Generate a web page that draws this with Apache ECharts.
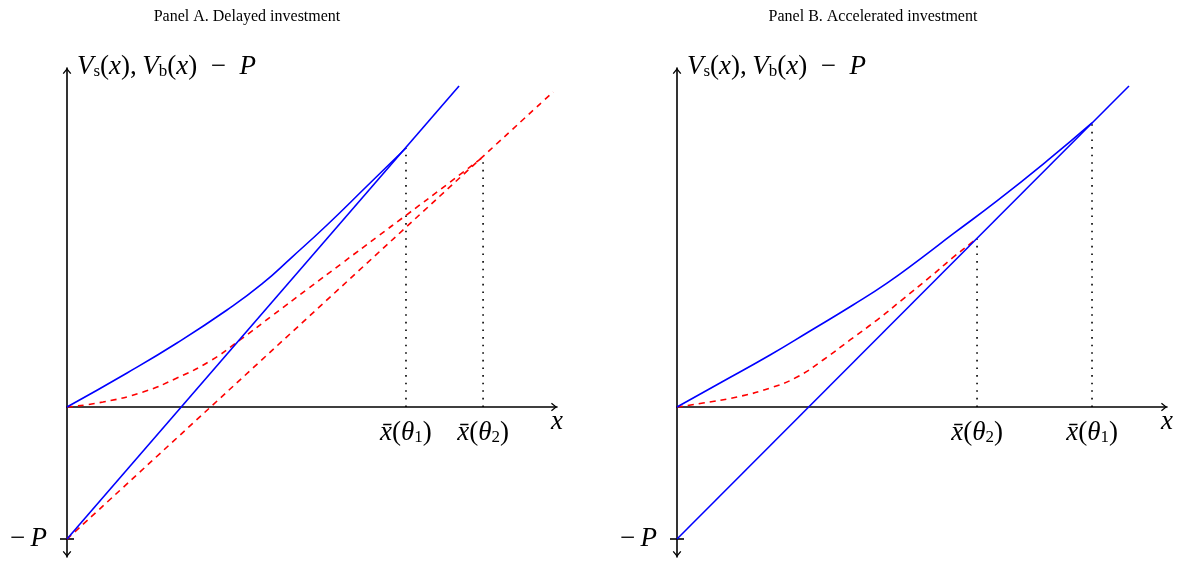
<!DOCTYPE html>
<html>
<head>
<meta charset="utf-8">
<script src="https://cdn.jsdelivr.net/npm/echarts@6/dist/echarts.min.js"></script>
<style>
  html, body { margin: 0; padding: 0; background: #fff; }
  #main { width: 1181px; height: 562px; }
</style>
</head>
<body>
<div id="main"></div>
<script>
var P = 1

// Panel A. Delayed investment
var aVsX = [0, 0.455, 0.833, 1.212, 1.477, 1.705, 1.97, 2.273, 2.568]
var aVsY = [0, 0.258, 0.485, 0.735, 0.932, 1.136, 1.379, 1.674, 1.962]
var aLineEnd = [2.97, 2.432]
var aRedX = [0, 0.273, 0.576, 0.833, 1.083, 1.311, 1.561, 1.818, 2.091, 2.348, 2.576, 2.879, 3.152]
var aRedY = [0, 0.038, 0.114, 0.22, 0.348, 0.508, 0.697, 0.89, 1.095, 1.288, 1.458, 1.686, 1.894]
var aRedLineEnd = [3.682, 2.386]
var aTickLabels = ['{i|x̄}{n|(}{i|θ}{s|1}{n|)}', '{i|x̄}{n|(}{i|θ}{s|2}{n|)}']

// Panel B. Accelerated investment
var bVsX = [0, 0.326, 0.705, 1.008, 1.333, 1.591, 1.841, 2.091, 2.424, 2.803, 3.144]
var bVsY = [0, 0.182, 0.394, 0.576, 0.773, 0.939, 1.121, 1.311, 1.561, 1.864, 2.152]
var bLineEnd = [3.424, 2.432]
var bRedX = [0, 0.197, 0.455, 0.705, 0.909, 1.106, 1.311, 1.515, 1.712, 1.917, 2.091, 2.22, 2.273]
var bRedY = [0, 0.03, 0.076, 0.144, 0.227, 0.356, 0.508, 0.659, 0.818, 0.985, 1.133, 1.235, 1.277]
var bTickLabels = ['{i|x̄}{n|(}{i|θ}{s|1}{n|)}', '{i|x̄}{n|(}{i|θ}{s|2}{n|)}']

var xMax = 3.712
var yMin = -1.136
var yMax = 2.568
var gridH = 489

var serif = 'Liberation Serif'
var rich = {
  i: { fontFamily: serif, fontStyle: 'italic', fontSize: 27, lineHeight: 26, color: '#000' },
  n: { fontFamily: serif, fontSize: 27, lineHeight: 26, color: '#000' },
  // subscript: padding on top pushes the glyphs below the baseline
  s: { fontFamily: serif, fontSize: 17, lineHeight: 6, padding: [9, 0, 0, 0], color: '#000' }
}
var yName = '{i|V}{s|s}{n|(}{i|x}{n|),\u2009}{i|V}{s|b}{n|(}{i|x}{n|)\u2002−\u2002}{i|P}'
var arrowTip = 'path://M0,6L5,0L10,6L8.8,7L5,2.2L1.2,7Z'
var black = { color: '#000', width: 1.6 }

function pairs(xs, ys) {
  return xs.map(function(x, i) {
    return [x, ys[i]]
  })
}
function last(arr) {
  return arr[arr.length - 1]
}

function makeX(idx, values, labels) {
  // main axis on zero + a label-only axis moved up to the zero line
  var zeroOffset = -((0 - yMin) / (yMax - yMin)) * gridH
  return [
    {
      gridIndex: idx,
      type: 'value',
      min: 0,
      max: xMax,
      axisLine: {
        onZero: true,
        symbol: ['none', arrowTip],
        symbolSize: [10, 6],
        symbolOffset: [0, -3],
        lineStyle: black
      },
      axisTick: { show: false },
      splitLine: { show: false },
      axisLabel: { show: false },
      name: '{i|x}',
      nameLocation: 'end',
      nameGap: 0,
      nameTextStyle: { rich: rich, align: 'center', verticalAlign: 'top', padding: [2, 0, 0, 0] }
    },
    {
      gridIndex: idx,
      type: 'value',
      position: 'bottom',
      offset: zeroOffset,
      min: 0,
      max: xMax,
      axisLine: { show: false, onZero: false },
      axisTick: { show: false },
      splitLine: { show: false },
      axisLabel: {
        customValues: values,
        margin: 13,
        rich: rich,
        formatter: function(v) {
          var best = 0
          values.forEach(function(c, i) {
            if (Math.abs(c - v) < Math.abs(values[best] - v)) best = i
          })
          return labels[best]
        }
      }
    }
  ]
}

function makeY(idx) {
  return [
    {
      gridIndex: idx,
      type: 'value',
      min: yMin,
      max: yMax,
      axisLine: {
        symbol: [arrowTip, arrowTip],
        symbolSize: [10, 6],
        symbolOffset: [3, -3],
        lineStyle: black
      },
      axisTick: { customValues: [-P], length: 7, lineStyle: black },
      axisLabel: { customValues: [-P], formatter: '{n|−\u2009}{i|P}', margin: 20, rich: rich },
      splitLine: { show: false },
      name: yName,
      nameLocation: 'end',
      nameGap: 1,
      nameTextStyle: { rich: rich, align: 'left', verticalAlign: 'middle', padding: [0, 0, 0, 10] }
    },
    {
      gridIndex: idx,
      type: 'value',
      position: 'left',
      min: yMin,
      max: yMax,
      axisLine: { show: false },
      axisTick: { inside: true, customValues: [-P], length: 7, lineStyle: black },
      axisLabel: { show: false },
      splitLine: { show: false }
    }
  ]
}

function solid(idx, data) {
  return {
    type: 'line', xAxisIndex: idx * 2, yAxisIndex: idx * 2, data: data,
    symbol: 'none', smooth: 0.5, silent: true,
    lineStyle: { color: '#0000ff', width: 1.6 }
  }
}
function dashed(idx, data) {
  return {
    type: 'line', xAxisIndex: idx * 2, yAxisIndex: idx * 2, data: data,
    symbol: 'none', smooth: 0.5, silent: true,
    lineStyle: { color: '#ff0000', width: 1.6, type: [6, 5] }
  }
}
function dotted(idx, pt) {
  return {
    type: 'line', xAxisIndex: idx * 2, yAxisIndex: idx * 2, data: [[pt[0], 0], pt],
    symbol: 'none', silent: true,
    lineStyle: { color: '#000', width: 1.6, type: [1.6, 6] }
  }
}

var aVs = pairs(aVsX, aVsY)
var aRed = pairs(aRedX, aRedY)
var bVs = pairs(bVsX, bVsY)
var bRed = pairs(bRedX, bRedY)

var chart = echarts.init(document.getElementById('main'))
chart.setOption({
  animation: false,
  backgroundColor: '#fff',
  title: [
    {
      text: 'Panel A. Delayed investment', left: 242, top: 4, textAlign: 'center',
      textStyle: { fontFamily: serif, fontSize: 16, fontWeight: 'normal', color: '#000' }
    },
    {
      text: 'Panel B. Accelerated investment', left: 868, top: 4, textAlign: 'center',
      textStyle: { fontFamily: serif, fontSize: 16, fontWeight: 'normal', color: '#000' }
    }
  ],
  grid: [
    { left: 67, top: 68, width: 490, height: gridH, containLabel: false, outerBoundsMode: 'none' },
    { left: 677, top: 68, width: 490, height: gridH, containLabel: false, outerBoundsMode: 'none' }
  ],
  xAxis: makeX(0, [last(aVsX), last(aRedX)], aTickLabels).concat(
    makeX(1, [last(bVsX), last(bRedX)], bTickLabels)
  ),
  yAxis: makeY(0).concat(makeY(1)),
  series: [
    dotted(0, last(aVs)),
    dotted(0, last(aRed)),
    dashed(0, aRed),
    dashed(0, [[0, -P], aRedLineEnd]),
    solid(0, aVs),
    solid(0, [[0, -P], aLineEnd]),
    dotted(1, last(bVs)),
    dotted(1, last(bRed)),
    dashed(1, bRed),
    solid(1, bVs),
    solid(1, [[0, -P], bLineEnd])
  ]
})
</script>
</body>
</html>
